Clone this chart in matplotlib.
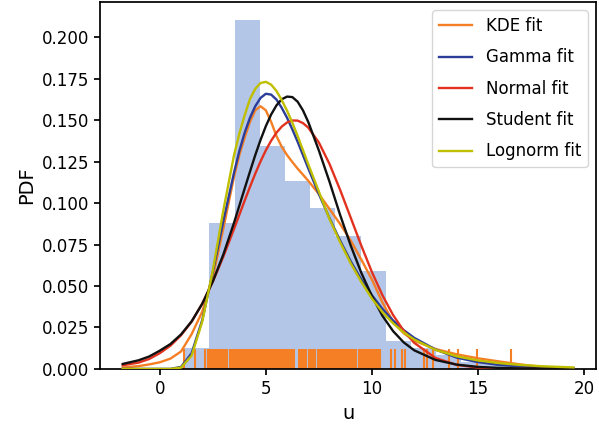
import numpy as np
import matplotlib
matplotlib.use("Agg")
import matplotlib.pyplot as plt
from matplotlib.collections import LineCollection

# histogram (density)
bin_edges = [1.15, 2.34, 3.53, 4.72, 5.90, 7.09, 8.28, 9.47, 10.66, 11.85,
             13.03, 14.22, 15.41, 16.60]
bin_heights = [0.0126, 0.0883, 0.2103, 0.1346, 0.1136, 0.0968, 0.0799,
               0.0589, 0.0168, 0.0126, 0.0084, 0.0042, 0.0042]

# rug positions
rug = [1.15, 1.66, 2.14, 2.28, 2.36, 2.44, 2.52, 2.62, 2.70, 2.78, 2.84,
       2.93, 3.01, 3.09, 3.17, 3.30, 3.38, 3.46, 3.54, 3.62, 3.70, 3.78,
       3.86, 3.94, 4.02, 4.10, 4.18, 4.26, 4.34, 4.42, 4.50, 4.58, 4.66,
       4.74, 4.82, 4.90, 4.98, 5.06, 5.14, 5.22, 5.30, 5.38, 5.46, 5.54,
       5.62, 5.70, 5.78, 5.86, 5.94, 6.02, 6.10, 6.18, 6.26, 6.33, 6.55,
       6.63, 6.71, 6.79, 6.88, 7.02, 7.06, 7.16, 7.24, 7.34, 7.46, 7.54,
       7.62, 7.70, 7.78, 7.86, 7.93, 8.01, 8.09, 8.17, 8.25, 8.33, 8.40,
       8.50, 8.58, 8.66, 8.74, 8.82, 8.90, 8.98, 9.06, 9.14, 9.22, 9.27,
       9.37, 9.45, 9.53, 9.61, 9.66, 9.74, 9.82, 9.90, 9.98, 10.06, 10.14,
       10.22, 10.30, 10.37, 10.88, 11.08, 11.40, 11.55, 12.45, 12.62, 12.90,
       13.63, 14.04, 14.98, 16.56]

# fitted curves
u = [-1.75, -1, -0.5, 0, 0.5, 1, 1.5, 2, 2.5, 3, 3.5, 3.75, 4, 4.25, 4.5,
     4.75, 5, 5.25, 5.5, 5.75, 6, 6.25, 6.5, 6.75, 7, 7.5, 8, 8.5, 9, 9.5,
     10, 10.5, 11, 11.5, 12, 13, 14, 15, 16, 17, 18, 19.5]

kde = [0.0008, 0.0017, 0.0027, 0.0040, 0.0062, 0.0105, 0.0210, 0.0345,
       0.0555, 0.0850, 0.1160, 0.1290, 0.1395, 0.1490, 0.1560, 0.1585,
       0.1560, 0.1490, 0.1405, 0.1340, 0.1290, 0.1248, 0.1208, 0.1172,
       0.1135, 0.1055, 0.0965, 0.0875, 0.0775, 0.0660, 0.0540, 0.0400,
       0.0285, 0.0215, 0.0170, 0.0120, 0.0088, 0.0064, 0.0045, 0.0027,
       0.0012, 0.0002]

gamma = [0.0, 0.0, 0.0, 0.0, 0.0, 0.0012, 0.0095, 0.0295, 0.0585, 0.0895,
         0.1185, 0.1315, 0.1425, 0.1515, 0.1585, 0.1635, 0.1660, 0.1655,
         0.1625, 0.1575, 0.1515, 0.1445, 0.1370, 0.1290, 0.1210, 0.1055,
         0.0910, 0.0775, 0.0650, 0.0540, 0.0445, 0.0362, 0.0292, 0.0234,
         0.0187, 0.0117, 0.0068, 0.0041, 0.0024, 0.0015, 0.0009, 0.0004]

normal = [0.0022, 0.0038, 0.0060, 0.0095, 0.0140, 0.0203, 0.0285, 0.0394,
          0.0527, 0.0679, 0.0845, 0.0930, 0.1015, 0.1098, 0.1178, 0.1252,
          0.1319, 0.1377, 0.1425, 0.1462, 0.1487, 0.1499, 0.1498, 0.1483,
          0.1456, 0.1366, 0.1237, 0.1081, 0.0913, 0.0744, 0.0585, 0.0444,
          0.0325, 0.0230, 0.0157, 0.0066, 0.0024, 0.0008, 0.0002, 0.0001,
          0.0, 0.0]

student = [0.0030, 0.0052, 0.0075, 0.0110, 0.0150, 0.0208, 0.0287, 0.0393,
           0.0528, 0.0692, 0.0882, 0.0985, 0.1088, 0.1190, 0.1290, 0.1382,
           0.1465, 0.1535, 0.1590, 0.1627, 0.1643, 0.1640, 0.1612, 0.1560,
           0.1490, 0.1318, 0.1130, 0.0930, 0.0745, 0.0580, 0.0440, 0.0320,
           0.0228, 0.0160, 0.0112, 0.0054, 0.0026, 0.0012, 0.0006, 0.0003,
           0.0002, 0.0001]

lognorm = [0.0, 0.0, 0.0, 0.0, 0.0, 0.0008, 0.0080, 0.0285, 0.0595, 0.0960,
           0.1290, 0.1420, 0.1530, 0.1628, 0.1690, 0.1725, 0.1732, 0.1715,
           0.1677, 0.1622, 0.1558, 0.1485, 0.1405, 0.1320, 0.1235, 0.1070,
           0.0905, 0.0765, 0.0638, 0.0525, 0.0425, 0.0342, 0.0275, 0.0220,
           0.0177, 0.0115, 0.0076, 0.0051, 0.0035, 0.0024, 0.0016, 0.0009]

plt.rcParams['font.size'] = 12
plt.rcParams['axes.linewidth'] = 1.25
plt.rcParams['xtick.major.width'] = 1.25
plt.rcParams['ytick.major.width'] = 1.25
plt.rcParams['xtick.major.size'] = 4.5
plt.rcParams['ytick.major.size'] = 4.5

orange = '#f47f24'

fig, ax = plt.subplots(figsize=(5.99, 4.25), dpi=100)
fig.subplots_adjust(left=0.167, right=0.995, bottom=0.132, top=0.995)

ax.bar(bin_edges[:-1], bin_heights, width=np.diff(bin_edges), align='edge',
       color='#b4c6e7', linewidth=0, zorder=1)

segs = [[(x, 0), (x, 0.053)] for x in rug]
ax.add_collection(LineCollection(segs, colors=orange, linewidths=1.5,
                                 transform=ax.get_xaxis_transform(),
                                 zorder=2))

lw = 1.7
ax.plot(u, kde, color=orange, lw=lw, label='KDE fit', zorder=3)
ax.plot(u, gamma, color='#2b3d98', lw=lw, label='Gamma fit', zorder=3)
ax.plot(u, normal, color='#e2321f', lw=lw, label='Normal fit', zorder=3)
ax.plot(u, student, color='#111111', lw=lw, label='Student fit', zorder=3)
ax.plot(u, lognorm, color='#bfbf00', lw=lw, label='Lognorm fit', zorder=3)

ax.set_xlim(-2.82, 20.57)
ax.set_ylim(0, 0.2213)
ax.set_xticks([0, 5, 10, 15, 20])
ax.set_yticks(np.arange(0, 0.201, 0.025))
ax.yaxis.set_major_formatter(matplotlib.ticker.FormatStrFormatter('%.3f'))
ax.set_xlabel('u', fontsize=14)
ax.set_ylabel('PDF', fontsize=14)
ax.legend(loc='upper right', labelspacing=0.8)

fig.savefig('out.png', dpi=100)
